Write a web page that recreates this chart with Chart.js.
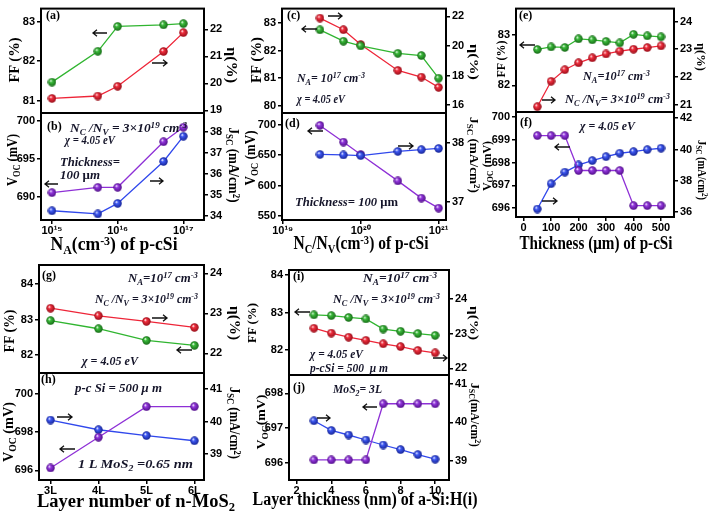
<!DOCTYPE html>
<html><head><meta charset="utf-8">
<script src="https://cdn.jsdelivr.net/npm/chart.js@4/dist/chart.umd.min.js"></script>
<style>
html,body{margin:0;padding:0;background:#fff}
body{width:709px;height:515px;position:relative;overflow:hidden}
canvas{position:absolute;left:0;top:0}
.t{position:absolute;white-space:nowrap;font-family:'Liberation Serif','DejaVu Serif',serif;font-weight:bold;color:#000;line-height:1;z-index:5}
.ann{font-style:italic;color:#15152a}
.up{font-style:normal}
sub,sup{font-size:68%;line-height:0;position:relative;vertical-align:baseline}
sub{top:0.3em} sup{top:-0.45em}
svg{position:absolute;left:0;top:0;z-index:6}
</style></head><body>
<script>
// ---------- DATA ----------
// (a),(b): acceptor density N_A
const naX   = [1e15, 5e15, 1e16, 5e16, 1e17];
const naFF  = [81.47, 82.25, 82.88, 82.92, 82.95];
const naEta = [19.44, 19.53, 19.89, 21.18, 21.88];
const naVoc = [690.6, 691.3, 691.3, 697.3, 699.2];
const naJsc = [34.25, 34.1, 34.6, 36.6, 37.8];
// (c),(d): Nc/Nv
const ncX   = [3e19, 6e19, 1e20, 3e20, 6e20, 1e21];
const ncFF  = [82.75, 82.34, 82.17, 81.9, 81.82, 81.0];
const ncEta = [21.89, 21.1, 20.1, 18.35, 17.9, 17.2];
const ncVoc = [698.9, 671.5, 651, 607.7, 579.4, 562.9];
const ncJsc = [37.8, 37.79, 37.78, 37.85, 37.88, 37.9];
// (e),(f): thickness of p-cSi
const thX   = [50, 100, 150, 200, 250, 300, 350, 400, 450, 500];
const thFF  = [82.71, 82.76, 82.75, 82.92, 82.90, 82.87, 82.84, 83.01, 82.98, 82.96];
const thEta = [20.92, 21.84, 22.26, 22.51, 22.69, 22.83, 22.93, 23.0, 23.06, 23.12];
const thVoc = [699.19, 699.19, 699.19, 697.65, 697.65, 697.65, 697.65, 696.1, 696.1, 696.1];
const thJsc = [36.19, 37.81, 38.55, 39.01, 39.29, 39.54, 39.76, 39.86, 39.99, 40.08];
// (g),(h): MoS2 layer number
const layX   = [3, 4, 5, 6];
const layFF  = [82.97, 82.74, 82.41, 82.27];
const layEta = [23.13, 22.94, 22.8, 22.65];
const layVoc = [696.13, 697.74, 699.34, 699.34];
const layJsc = [40.05, 39.75, 39.57, 39.41];
// (i),(j): a-Si:H(i) thickness
const aX   = [3, 4, 5, 6, 7, 8, 9, 10];
const aFF  = [82.94, 82.92, 82.87, 82.83, 82.56, 82.5, 82.44, 82.39];
const aEta = [23.16, 23.02, 22.9, 22.81, 22.71, 22.63, 22.52, 22.45];
const aVoc = [696.08, 696.08, 696.08, 696.08, 697.7, 697.7, 697.7, 697.7];
const aJsc = [40.04, 39.79, 39.67, 39.54, 39.41, 39.29, 39.16, 39.04];

// ---------- TICKS ----------
const naTicks = [1e15, 1e16, 1e17];       const naLabels = ['10¹⁵', '10¹⁶', '10¹⁷'];
const ncTicks = [1e19, 1e20, 1e21];       const ncLabels = ['10¹⁹', '10²⁰', '10²¹'];
const thTicks = [0, 100, 200, 300, 400, 500]; const thLabels = ['0', '100', '200', '300', '400', '500'];
const layTicks = [3, 4, 5, 6];            const layLabels = ['3L', '4L', '5L', '6L'];
const aTicks = [2, 4, 6, 8, 10];          const aLabels = ['2', '4', '6', '8', '10'];
const ffTicksA = [81, 82, 83],  etaTicksA = [19, 20, 21, 22];
const vocTicksB = [690, 695, 700], jscTicksB = [34, 35, 36, 37, 38];
const ffTicksC = [80, 81, 82, 83], etaTicksC = [16, 18, 20, 22];
const vocTicksD = [550, 600, 650, 700], jscTicksD = [37, 38];
const ffTicksE = [82, 83], etaTicksE = [21, 22, 23, 24];
const vocTicksF = [696, 697, 698, 699, 700], jscTicksF = [36, 38, 40, 42];
const ffTicksG = [82, 83, 84], etaTicksG = [22, 23, 24];
const vocTicksH = [696, 698, 700], jscTicksH = [39, 40, 41];
const ffTicksI = [82, 83, 84], etaTicksI = [22, 23, 24];
const vocTicksJ = [696, 697, 698], jscTicksJ = [39, 40, 41];

// ---------- STYLE ----------
const G = {line:'#30b530', ball:'#3cbc3c', dark:'#166a16'};
const R = {line:'#ee2538', ball:'#f2303f', dark:'#980c18'};
const V = {line:'#8e30d6', ball:'#9538e0', dark:'#520f8a'};
const B = {line:'#3048ec', ball:'#3f5af5', dark:'#162496'};

function hasFont(name) {
  const c = document.createElement('canvas').getContext('2d');
  c.font = 'bold 20px monospace'; const w0 = c.measureText('7000abcW').width;
  c.font = `bold 20px "${name}", monospace`; const w1 = c.measureText('7000abcW').width;
  return Math.abs(w0 - w1) > 0.5;
}
const NARROW = hasFont('Liberation Sans Narrow');
const TICKFONT = NARROW
  ? {family:"'Liberation Sans Narrow', 'Liberation Sans', sans-serif", size:12.5, weight:'bold'}
  : {family:"'Liberation Sans', Arial, sans-serif", size:11, weight:'bold'};

function ball(c) {
  const s = 9, cv = document.createElement('canvas'); cv.width = s; cv.height = s;
  const g = cv.getContext('2d');
  const cx = 4.5, cy = 4.5, r = 4.2;
  const gr = g.createRadialGradient(cx - 1.4, cy - 1.6, 0.2, cx, cy, r);
  gr.addColorStop(0, '#ffffff'); gr.addColorStop(0.32, c.ball); gr.addColorStop(1, c.dark);
  g.fillStyle = gr; g.beginPath(); g.arc(cx, cy, r, 0, Math.PI * 2); g.fill();
  return cv;
}

const frame = {id:'frame', afterDraw(c){
  const a = c.chartArea, x = c.ctx; x.save(); x.lineWidth = 2; x.strokeStyle = '#000';
  x.strokeRect(a.left, a.top, a.right - a.left, a.bottom - a.top); x.restore(); }};

function yScale(pos, rng, W) {
  return {type:'linear', position:pos, min:rng[0], max:rng[1], bounds:'data',
    afterBuildTicks: s => { s.ticks = rng[2].map(v => ({value:v})); },
    afterFit: s => { s.width = W; },
    ticks:{font:TICKFONT, color:'#000', padding:2, callback: v => String(v)},
    grid:{display:true, drawOnChartArea:false, drawTicks:true, tickLength:4, color:'#000', lineWidth:1.5},
    border:{display:false}};
}

function panel(p) {
  const cv = document.createElement('canvas'); cv.width = 709; cv.height = 515;
  document.body.appendChild(cv);
  const AW = 34, XH = 24;
  const [l, t, r, b] = p.rect;
  const datasets = p.series.map((s, k) => ({
    data: s.x.map((xv, i) => ({x:xv, y:s.y[i]})), yAxisID:s.ax,
    borderColor:s.col.line, borderWidth:1.3, pointStyle:ball(s.col), pointRadius:4,
    fill:false, tension:0, clip:false, order:s.order || k }));
  new Chart(cv, {
    type:'line', data:{datasets},
    plugins:[frame],
    options:{
      responsive:false, animation:false, events:[],
      layout:{autoPadding:false, padding:{left:l - AW, right:709 - r - AW, top:t, bottom:515 - b - (p.showX ? XH : 0)}},
      plugins:{legend:{display:false}, tooltip:{enabled:false}},
      scales:{
        x:{type:p.xType, min:p.xr[0], max:p.xr[1], bounds:'data', display:p.showX, position:'bottom',
          afterBuildTicks: s => { s.ticks = p.xTicks.map(v => ({value:v})); },
          afterFit: s => { s.height = p.showX ? XH : 0; },
          ticks:{font:TICKFONT, color:'#000', padding:0, maxRotation:0, autoSkip:false,
            callback:(v, i) => p.xLabels[i]},
          grid:{display:true, drawOnChartArea:false, drawTicks:true, tickLength:4, color:'#000', lineWidth:1.5},
          border:{display:false}},
        yL: yScale('left', p.yL, AW),
        yR: yScale('right', p.yR, AW)
      }
    }
  });
}

const LOGA = [Math.pow(10, 14.833), Math.pow(10, 17.315)];
const LOGC = [Math.pow(10, 18.99), Math.pow(10, 21.095)];
const panels = [
  {rect:[41,6,204,113], xType:'logarithmic', xr:LOGA, showX:false, xTicks:naTicks, xLabels:naLabels,
   yL:[80.69,83.33,ffTicksA], yR:[18.9,22.77,etaTicksA],
   series:[{x:naX,y:naFF,ax:'yL',col:G},{x:naX,y:naEta,ax:'yR',col:R}]},
  {rect:[41,113,204,220], xType:'logarithmic', xr:LOGA, showX:true, xTicks:naTicks, xLabels:naLabels,
   yL:[687.0,701.08,vocTicksB], yR:[33.81,38.91,jscTicksB],
   series:[{x:naX,y:naVoc,ax:'yL',col:V},{x:naX,y:naJsc,ax:'yR',col:B}]},
  {rect:[282,6,446,113], xType:'logarithmic', xr:LOGC, showX:false, xTicks:ncTicks, xLabels:ncLabels,
   yL:[79.74,83.52,ffTicksC], yR:[15.47,22.53,etaTicksC],
   series:[{x:ncX,y:ncFF,ax:'yL',col:G},{x:ncX,y:ncEta,ax:'yR',col:R}]},
  {rect:[282,113,446,220], xType:'logarithmic', xr:LOGC, showX:true, xTicks:ncTicks, xLabels:ncLabels,
   yL:[543.4,719.3,vocTicksD], yR:[36.69,38.5,jscTicksD],
   series:[{x:ncX,y:ncVoc,ax:'yL',col:V,order:2},{x:ncX,y:ncJsc,ax:'yR',col:B,order:1}]},
  {rect:[516,6,674,112], xType:'linear', xr:[-27.6,547.2], showX:false, xTicks:thTicks, xLabels:thLabels,
   yL:[81.47,83.52,ffTicksE], yR:[20.73,24.47,etaTicksE],
   series:[{x:thX,y:thFF,ax:'yL',col:G},{x:thX,y:thEta,ax:'yR',col:R}]},
  {rect:[516,112,674,217], xType:'linear', xr:[-27.6,547.2], showX:true, xTicks:thTicks, xLabels:thLabels,
   yL:[695.6,700.23,vocTicksF], yR:[35.68,42.4,jscTicksF],
   series:[{x:thX,y:thVoc,ax:'yL',col:V},{x:thX,y:thJsc,ax:'yR',col:B}]},
  {rect:[39,265,204,373], xType:'linear', xr:[2.76,6.2], showX:false, xTicks:layTicks, xLabels:layLabels,
   yL:[81.49,84.54,ffTicksG], yR:[21.51,24.21,etaTicksG],
   series:[{x:layX,y:layFF,ax:'yL',col:G},{x:layX,y:layEta,ax:'yR',col:R}]},
  {rect:[39,373,204,480], xType:'linear', xr:[2.76,6.2], showX:true, xTicks:layTicks, xLabels:layLabels,
   yL:[695.5,701.1,vocTicksH], yR:[38.2,41.5,jscTicksH],
   series:[{x:layX,y:layVoc,ax:'yL',col:V},{x:layX,y:layJsc,ax:'yR',col:B}]},
  {rect:[289,270,449,375], xType:'linear', xr:[1.56,10.8], showX:false, xTicks:aTicks, xLabels:aLabels,
   yL:[81.33,84.14,ffTicksI], yR:[21.81,24.84,etaTicksI],
   series:[{x:aX,y:aFF,ax:'yL',col:G},{x:aX,y:aEta,ax:'yR',col:R}]},
  {rect:[289,375,449,480], xType:'linear', xr:[1.56,10.8], showX:true, xTicks:aTicks, xLabels:aLabels,
   yL:[695.5,698.53,vocTicksJ], yR:[38.5,41.23,jscTicksJ],
   series:[{x:aX,y:aVoc,ax:'yL',col:V},{x:aX,y:aJsc,ax:'yR',col:B}]}
];
panels.forEach(panel);

// ---------- TEXT ----------
function addText(html, x, y, o) {
  const d = document.createElement('div');
  d.className = 't ' + (o.cls || '');
  d.innerHTML = html;
  d.style.fontSize = (o.size || 12) + 'px';
  document.body.appendChild(d);
  let sc = 1;
  if (o.w) { const w = d.getBoundingClientRect().width; sc = Math.max(0.6, Math.min(1.5, o.w / w)); }
  d.style.left = x + 'px'; d.style.top = y + 'px';
  let tr;
  if (o.anchor === 'l') { d.style.transformOrigin = 'left center'; tr = 'translate(0,-50%)'; }
  else tr = 'translate(-50%,-50%)';
  if (o.rot) tr += ' rotate(' + o.rot + 'deg)';
  tr += ' scaleX(' + sc.toFixed(3) + ')';
  d.style.transform = tr;
}
const T_FF = 'FF (%)', T_ETA = 'η(%)', T_VOC = 'V<sub>OC</sub> (mV)', T_JSC = 'J<sub>SC</sub> (mA/cm<sup>2</sup>)';
// y-axis titles: [text, cx, cy, length, rotation, size]
[
  [T_FF, 15, 60, 45, -90, 14], [T_ETA, 231, 65, 36, 90, 14],
  [T_VOC, 13, 160, 52, -90, 14], [T_JSC, 233, 165, 75, 90, 14],
  [T_FF, 257, 60, 46, -90, 14], [T_ETA, 474, 62, 36, 90, 13],
  [T_VOC, 251, 158, 55, -90, 14], [T_JSC, 474, 155, 76, 90, 13],
  [T_FF, 501, 59, 37, -90, 12], [T_ETA, 701, 57, 28, 90, 12],
  [T_VOC, 487, 166, 50, -90, 12], [T_JSC, 702, 170, 60, 90, 12],
  [T_FF, 10, 331, 43, -90, 14], [T_ETA, 234, 323, 34, 90, 14],
  [T_VOC, 9, 432, 60, -90, 14], [T_JSC, 234, 423, 72, 90, 14],
  [T_FF, 251, 323, 40, -90, 13], [T_ETA, 474, 323, 34, 90, 12],
  ['V<sub>OC</sub>(mV)', 260, 422, 55, -90, 13], ['J<sub>SC</sub>(mA/cm<sup>2</sup>)', 475, 415, 64, 90, 12]
].forEach(a => addText(a[0], a[1], a[2], {w:a[3], rot:a[4], size:a[5]}));
// x-axis titles
[
  ['N<sub>A</sub>(cm<sup>-3</sup>) of p-cSi', 113.5, 244, 127],
  ['N<sub>C</sub>/N<sub>V</sub>(cm<sup>-3</sup>) of p-cSi', 360.5, 243, 135],
  ['Thickness (μm) of p-cSi', 596, 243, 153],
  ['Layer number of n-MoS<sub>2</sub>', 136, 501, 198],
  ['Layer thickness (nm) of a-Si:H(i)', 365, 499, 225]
].forEach(a => addText(a[0], a[1], a[2], {w:a[3], size:18}));
// panel letters
[['(a)',46,15],['(b)',47,126],['(c)',287,15],['(d)',285,123],['(e)',519,15],['(f)',520,122],
 ['(g)',42,275],['(h)',41,379],['(i)',293,276],['(j)',293,387]]
 .forEach(a => addText(a[0], a[1], a[2], {anchor:'l', size:12}));
// annotations: [html, left, cy, width]
const NA = 'N<sub>A</sub>=10<sup>17</sup> cm<sup>-3</sup>';
const NCNV = 'N<sub>C</sub> /N<sub>V</sub> = 3×10<sup>19</sup> cm<sup>-3</sup>';
const CHI = 'χ = 4.05 eV';
[
  [NCNV, 70, 127, 117], [CHI, 65, 139, 50], ['Thickness=', 60, 161, 60], ['100 <span class="up">μ</span>m', 60, 174, 40],
  ['N<sub>A</sub>= 10<sup>17</sup> cm<sup>-3</sup>', 297, 77, 68], [CHI, 297, 98, 48],
  ['Thickness= 100 <span class="up">μm</span>', 295, 201, 103],
  [NA, 583, 75, 67], ['N<sub>C</sub> /N<sub>V</sub>= 3×10<sup>19</sup> cm<sup>-3</sup>', 565, 98, 105],
  [CHI, 580, 125, 55],
  [NA, 128, 277, 70], [NCNV, 95, 298, 103], [CHI, 82, 360, 56],
  ['p-c Si = 500 μ m', 75, 387, 87], ['1 L MoS<sub>2</sub> =0.65 nm', 78, 463, 115],
  [NA, 363, 277, 74], [NCNV, 333, 298, 107], [CHI, 310, 353, 53], ['p-cSi = 500 &nbsp;μ m', 310, 367, 78],
  ['MoS<sub>2</sub>= 3L', 333, 388, 49]
].forEach(a => addText(a[0], a[1], a[2], {w:a[3], anchor:'l', cls:'ann', size:13}));

// arrows: [x1, x2, y, dir]
const arrows = [
  [93,107,33,-1],[152,167,63,1],[45,58,184,-1],[150,163,181,1],
  [328,342,16,1],[302,317,29,-1],[308,323,131,-1],[398,413,146,1],
  [520,535,45,-1],[542,555,100,1],[555,570,147,-1],[542,557,201,1],
  [152,167,318,1],[177,192,350,-1],[57,72,417,1],[60,75,449,-1],
  [295,310,312,-1],[433,447,358,1],[363,377,407,-1],[317,330,418,1]
];
let dpath = '';
arrows.forEach(([x1, x2, y, dir]) => {
  const tip = dir < 0 ? x1 : x2, h = 4;
  dpath += `M${x1},${y}H${x2}M${tip - dir * h},${y - 3.2}L${tip},${y}L${tip - dir * h},${y + 3.2}`;
});
const svg = document.createElementNS('http://www.w3.org/2000/svg', 'svg');
svg.setAttribute('width', 709); svg.setAttribute('height', 515);
const path = document.createElementNS('http://www.w3.org/2000/svg', 'path');
path.setAttribute('d', dpath); path.setAttribute('stroke', '#111'); path.setAttribute('stroke-width', '1.3');
path.setAttribute('fill', 'none');
svg.appendChild(path); document.body.appendChild(svg);
</script>
</body></html>
